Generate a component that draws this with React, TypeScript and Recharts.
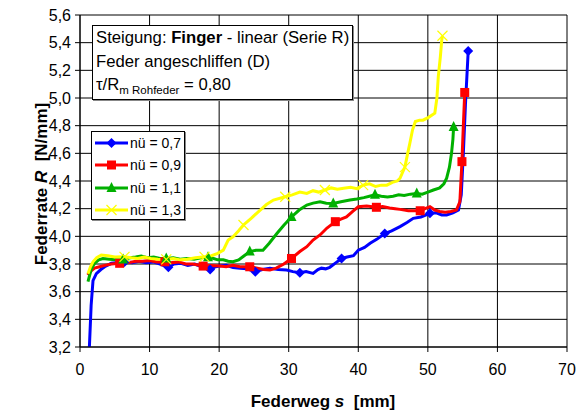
import React from "react";
import { LineChart, Line, XAxis, YAxis, CartesianGrid, Legend } from "recharts";

const FONT = "'Liberation Sans', Arial, sans-serif";

const xTicks = [0, 10, 20, 30, 40, 50, 60, 70];
const yTicks = [3.2, 3.4, 3.6, 3.8, 4.0, 4.2, 4.4, 4.6, 4.8, 5.0, 5.2, 5.4, 5.6];

// Federweg s [mm], Federrate R [N/mm]
const nu07: [number, number][] = [
  [1.35, 3.2], [1.6, 3.5], [1.87, 3.68], [2.35, 3.73], [3.0, 3.76], [3.55, 3.78], [4.5, 3.805],
  [5.5, 3.81], [6.4, 3.815], [7.5, 3.81], [8.5, 3.82], [9.5, 3.81], [10.5, 3.815], [11.5, 3.8],
  [12.7, 3.776], [13.5, 3.8], [14.5, 3.805], [15.5, 3.79], [16.5, 3.8], [17.5, 3.78], [18.7, 3.76],
  [19.5, 3.78], [20.1, 3.785], [21, 3.79], [22, 3.775], [23, 3.77], [24, 3.765], [25.2, 3.744],
  [26.2, 3.76], [27.3, 3.77], [28.5, 3.76], [29.7, 3.756], [30.6, 3.745], [31.6, 3.737],
  [32.5, 3.745], [33.5, 3.732], [34.2, 3.76], [34.7, 3.77], [35.3, 3.765], [35.9, 3.776],
  [36.8, 3.81], [37.6, 3.84], [38.4, 3.85], [39.3, 3.86], [40, 3.9], [40.9, 3.92], [41.7, 3.95],
  [42.7, 3.98], [43.8, 4.02], [44.8, 4.04], [46, 4.07], [47, 4.1], [47.9, 4.13], [49, 4.14],
  [50.3, 4.166], [51.2, 4.17], [52, 4.155], [52.7, 4.154], [53.6, 4.17], [54.4, 4.19],
  [54.8, 4.3], [55.1, 4.6], [55.4, 4.95], [55.8, 5.34],
];
const nu07Marks = [6.4, 12.7, 18.7, 25.2, 31.6, 37.6, 43.8, 50.3, 55.8];

const nu09: [number, number][] = [
  [1.1, 3.72], [1.6, 3.75], [2.1, 3.77], [2.8, 3.78], [3.55, 3.79], [4.5, 3.8], [5.7, 3.805],
  [7, 3.81], [8, 3.82], [9, 3.82], [10, 3.825], [11, 3.815], [12.2, 3.816], [13.2, 3.81],
  [14.2, 3.815], [15.2, 3.8], [16.2, 3.8], [17.7, 3.785], [18.8, 3.79], [20.1, 3.785], [21, 3.78],
  [22, 3.79], [23, 3.78], [24.4, 3.78], [25.5, 3.77], [26.4, 3.76], [27.3, 3.756], [28.2, 3.77],
  [29.3, 3.8], [30.4, 3.84], [31.6, 3.89], [32.6, 3.925], [33.5, 3.973], [34.5, 4.01],
  [35.5, 4.06], [36.7, 4.106], [37.5, 4.125], [38.3, 4.14], [39.2, 4.18], [40, 4.214],
  [41.2, 4.22], [42.6, 4.21], [43.5, 4.215], [44.5, 4.205], [45.3, 4.2], [46, 4.195],
  [47.2, 4.185], [48.9, 4.185], [49.6, 4.2], [50.3, 4.214], [51, 4.19], [51.7, 4.18],
  [52.5, 4.175], [53.3, 4.18], [54.1, 4.19], [54.6, 4.25], [54.9, 4.54], [55.1, 4.8], [55.3, 5.04],
];
const nu09Marks = [5.7, 12.2, 17.7, 24.4, 30.4, 36.7, 42.6, 48.9, 54.9, 55.3];

const nu11: [number, number][] = [
  [1.15, 3.672], [1.6, 3.76], [2.1, 3.805], [2.7, 3.83], [3.3, 3.84], [4.2, 3.835], [5.2, 3.83],
  [6.2, 3.833], [7.2, 3.845], [8.0, 3.85], [8.8, 3.857], [9.7, 3.845], [10.6, 3.85], [11.5, 3.84],
  [12.4, 3.84], [13.4, 3.845], [14.4, 3.835], [15.4, 3.84], [16.4, 3.835], [17.4, 3.845],
  [18.4, 3.848], [19.2, 3.84], [19.8, 3.83], [20.6, 3.83], [21.3, 3.82], [22, 3.816],
  [22.8, 3.83], [23.6, 3.86], [24.4, 3.89], [25.3, 3.9], [26.3, 3.9], [27.2, 3.95], [28.3, 4.02],
  [29.3, 4.08], [30.4, 4.14], [31.5, 4.19], [32.6, 4.226], [33.5, 4.24], [34.5, 4.25],
  [35.4, 4.24], [36.4, 4.238], [37.5, 4.25], [38.8, 4.262], [39.8, 4.27], [40.8, 4.28],
  [41.6, 4.29], [42.4, 4.3], [43.3, 4.29], [44.2, 4.285], [45, 4.29], [45.8, 4.3], [46.6, 4.295],
  [47.5, 4.305], [48.4, 4.31], [49.2, 4.305], [50, 4.32], [50.8, 4.335], [51.7, 4.35],
  [52.3, 4.38], [52.7, 4.42], [53.1, 4.5], [53.4, 4.6], [53.6, 4.7], [53.7, 4.79],
];
const nu11Marks = [6.2, 12.4, 18.4, 24.4, 30.4, 36.4, 42.4, 48.4, 53.7];

const nu13: [number, number][] = [
  [1.15, 3.73], [1.5, 3.78], [1.87, 3.816], [2.4, 3.845], [3.06, 3.865], [4, 3.86], [5, 3.85],
  [6.4, 3.852], [7.4, 3.845], [8.3, 3.84], [9.2, 3.85], [10.2, 3.84], [11.2, 3.835], [12.4, 3.833],
  [13.4, 3.84], [14.4, 3.83], [15.4, 3.835], [16.6, 3.845], [17.9, 3.852], [18.9, 3.86],
  [19.8, 3.877], [20.6, 3.9], [21.3, 3.973], [22, 3.997], [22.8, 4.04], [23.5, 4.082],
  [24.6, 4.13], [25.9, 4.19], [26.8, 4.23], [27.8, 4.262], [29.5, 4.286], [30.5, 4.3],
  [31.6, 4.32], [32.6, 4.31], [33.5, 4.33], [34.3, 4.32], [35.2, 4.335], [36.1, 4.35], [37, 4.34],
  [37.9, 4.347], [38.9, 4.355], [39.8, 4.345], [40.7, 4.37], [41.6, 4.38], [42.5, 4.36],
  [43.3, 4.37], [44.1, 4.37], [44.9, 4.39], [45.6, 4.4], [46, 4.42], [46.7, 4.5], [47.1, 4.6],
  [47.4, 4.67], [47.8, 4.77], [48.2, 4.83], [48.8, 4.84], [49.3, 4.84], [50.1, 4.86], [51, 4.89],
  [51.3, 5.0], [51.5, 5.154], [51.8, 5.3], [52, 5.42], [52.1, 5.45],
];
const nu13Marks = [6.4, 12.4, 17.9, 23.5, 29.5, 35.2, 40.7, 46.7, 52.1];

type Shape = "diamond" | "square" | "triangle" | "cross";

const series = [
  { name: "nü = 0,7", color: "#0000ff", pts: nu07, marks: nu07Marks, shape: "diamond" as Shape },
  { name: "nü = 0,9", color: "#ff0000", pts: nu09, marks: nu09Marks, shape: "square" as Shape },
  { name: "nü = 1,1", color: "#00b000", pts: nu11, marks: nu11Marks, shape: "triangle" as Shape },
  { name: "nü = 1,3", color: "#ffff00", pts: nu13, marks: nu13Marks, shape: "cross" as Shape },
];

function Marker({ shape, color, cx, cy }: { shape: Shape; color: string; cx: number; cy: number }) {
  if (shape === "diamond")
    return <polygon points={`${cx},${cy - 5} ${cx + 5},${cy} ${cx},${cy + 5} ${cx - 5},${cy}`} fill={color} />;
  if (shape === "square") return <rect x={cx - 4.5} y={cy - 4.5} width={9} height={9} fill={color} />;
  if (shape === "triangle")
    return <polygon points={`${cx},${cy - 6} ${cx + 5},${cy + 4} ${cx - 5},${cy + 4}`} fill={color} />;
  return (
    <g stroke={color} strokeWidth={1.2}>
      <line x1={cx - 5} y1={cy - 5} x2={cx + 5} y2={cy + 5} />
      <line x1={cx - 5} y1={cy + 5} x2={cx + 5} y2={cy - 5} />
    </g>
  );
}

const makeDot = (shape: Shape, color: string) => (p: any) => {
  const { cx, cy, payload, index } = p;
  if (!payload.m) return <g key={index} />;
  return <Marker key={index} shape={shape} color={color} cx={cx} cy={cy} />;
};

const fmt = (v: number) => v.toFixed(1).replace(".", ",");

function LegendBox() {
  return (
    <div
      style={{
        border: "1px solid #000",
        background: "#fff",
        boxShadow: "1px 1px 0 #888",
        width: 94,
        height: 89,
        boxSizing: "border-box",
        fontFamily: FONT,
        fontSize: 14,
        color: "#000",
      }}
    >
      {series.map((s) => (
        <div key={s.name} style={{ display: "flex", alignItems: "center", height: 22.3 }}>
          <svg width={35} height={14} style={{ marginLeft: 3 }}>
            <line x1={0} y1={7} x2={33} y2={7} stroke={s.color} strokeWidth={3} />
            <Marker shape={s.shape} color={s.color} cx={16.5} cy={7} />
          </svg>
          <span style={{ whiteSpace: "pre" }}>{s.name}</span>
        </div>
      ))}
    </div>
  );
}

export default function App() {
  return (
    <div style={{ position: "absolute", left: 0, top: 0, width: 584, height: 412, background: "#fff" }}>
      <LineChart width={584} height={412} margin={{ top: 15, right: 17, left: 0, bottom: 0 }}>
        <CartesianGrid stroke="#000" strokeWidth={1} />
        <XAxis
          type="number"
          dataKey="x"
          domain={[0, 70]}
          ticks={xTicks}
          allowDataOverflow
          height={65}
          tickSize={5}
          tickMargin={12}
          axisLine={{ stroke: "#000" }}
          tickLine={{ stroke: "#000" }}
          tick={{ fill: "#000", fontSize: 16, fontFamily: FONT }}
          label={() => (
            <text x={323} y={401} textAnchor="middle" dominantBaseline="central" fontFamily={FONT} fontSize={17} fontWeight="bold" fill="#000">
              Federweg <tspan fontStyle="italic">s</tspan>{"\u00a0 [mm]"}
            </text>
          )}
        />
        <YAxis
          type="number"
          domain={[3.2, 5.6]}
          ticks={yTicks}
          allowDataOverflow
          width={80}
          tickSize={5}
          tickMargin={4}
          tickFormatter={fmt}
          axisLine={{ stroke: "#000" }}
          tickLine={{ stroke: "#000" }}
          tick={{ fill: "#000", fontSize: 16, fontFamily: FONT }}
          label={() => (
            <text x={41} y={184} transform="rotate(-90, 41, 184)" textAnchor="middle" dominantBaseline="central" fontFamily={FONT} fontSize={17} fontWeight="bold" fill="#000">
              Federrate <tspan fontStyle="italic">R</tspan>{"\u00a0 [N/mm]"}
            </text>
          )}
        />
        {series.map((s) => (
          <Line
            key={s.name}
            data={s.pts.map(([x, y]) => ({ x, y, m: s.marks.includes(x) ? 1 : 0 }))}
            dataKey="y"
            name={s.name}
            type="linear"
            stroke={s.color}
            strokeWidth={3}
            dot={makeDot(s.shape, s.color)}
            activeDot={false}
            isAnimationActive={false}
          />
        ))}
        <Legend
          layout="vertical"
          align="center"
          verticalAlign="middle"
          content={() => <LegendBox />}
          wrapperStyle={{ left: 91, top: 131, width: 94, height: 89 }}
        />
      </LineChart>
      <div
        style={{
          position: "absolute",
          left: 92,
          top: 25,
          width: 261,
          height: 75,
          boxSizing: "border-box",
          border: "1px solid #000",
          boxShadow: "1px 1px 0 #888",
          background: "#fff",
          fontFamily: FONT,
          fontSize: 16.7,
          lineHeight: "23.5px",
          paddingLeft: 3,
          color: "#000",
          whiteSpace: "nowrap",
        }}
      >
        <div>
          Steigung: <b>Finger</b> - linear (Serie R)
        </div>
        <div>Feder angeschliffen (D)</div>
        <div>
          τ/R<span style={{ fontSize: 11.5, position: "relative", top: 4 }}>m Rohfeder</span> = 0,80
        </div>
      </div>
    </div>
  );
}
